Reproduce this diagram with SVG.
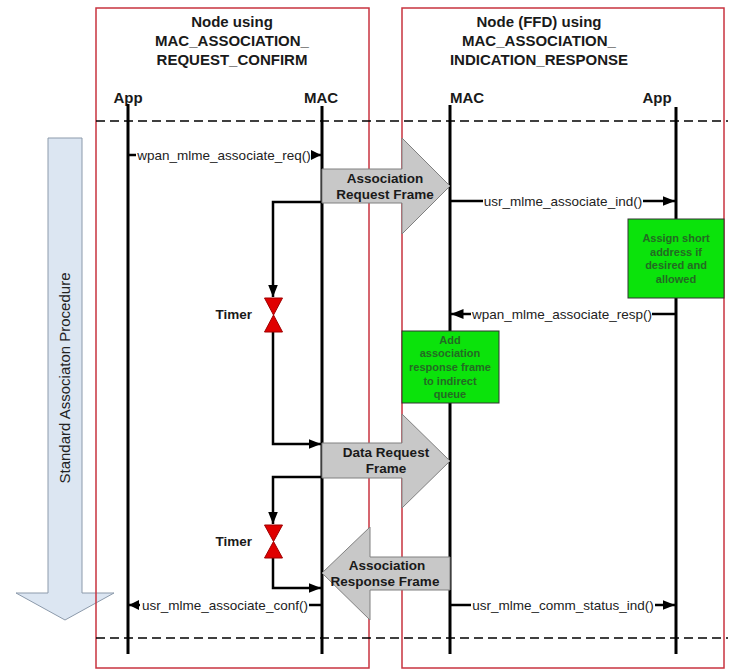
<svg xmlns="http://www.w3.org/2000/svg" width="740" height="670" viewBox="0 0 740 670">
<style>
  .hdr{font-family:"Liberation Sans",Arial,sans-serif;font-size:15px;font-weight:bold;fill:#1a1a1a;text-anchor:middle}
  .msg{font-family:"Liberation Sans",Arial,sans-serif;font-size:13.5px;fill:#222;text-anchor:middle}
  .frm{font-family:"Liberation Sans",Arial,sans-serif;font-size:13.5px;font-weight:bold;fill:#1a1a1a;text-anchor:middle}
  .grn{font-family:"Liberation Sans",Arial,sans-serif;font-size:11px;font-weight:bold;fill:#236b23;text-anchor:middle}
  .tmr{font-family:"Liberation Sans",Arial,sans-serif;font-size:13.5px;font-weight:bold;fill:#1a1a1a;text-anchor:end}
  .proc{font-family:"Liberation Sans",Arial,sans-serif;font-size:15px;fill:#222;text-anchor:middle}
  .box{fill:none;stroke:#c8333f;stroke-width:1.5}
  .life{stroke:#000;stroke-width:3}
  .dash{stroke:#000;stroke-width:1.5;stroke-dasharray:9 5}
  .ln{stroke:#000;stroke-width:2.5;fill:none}
  .big{fill:#c8c8c8;stroke:#808080;stroke-width:1}
  .gbox{fill:#0be30b;stroke:#333;stroke-width:1}
  .hg{fill:#e00000;stroke:#a00000;stroke-width:1}
</style>
<defs>
  <marker id="ah" markerWidth="5" markerHeight="4" refX="5" refY="2" orient="auto" markerUnits="strokeWidth">
    <path d="M0,0 L5,2 L0,4 Z" fill="#000"/>
  </marker>
  <marker id="ahs" markerWidth="4" markerHeight="4" refX="4" refY="2" orient="auto" markerUnits="strokeWidth">
    <path d="M0,0 L4,2 L0,4 Z" fill="#000"/>
  </marker>
</defs>
<rect width="740" height="670" fill="#fff"/>

<g id="procedure">
  <polygon points="48,138 82,138 82,593 114,593 65,620 16,593 48,593" fill="#dce6f2" stroke="#8c9aab" stroke-width="1"/>
  <text class="proc" transform="translate(70,378) rotate(-90)">Standard Associaton Procedure</text>
</g>

<g id="node-requester">
  <rect class="box" x="96" y="8" width="273" height="660"/>
  <text class="hdr" x="232" y="27">Node using</text>
  <text class="hdr" x="232" y="46">MAC_ASSOCIATION_</text>
  <text class="hdr" x="232" y="65">REQUEST_CONFIRM</text>
</g>
<g id="node-ffd">
  <rect class="box" x="402" y="8" width="322" height="660"/>
  <text class="hdr" x="539" y="27">Node (FFD) using</text>
  <text class="hdr" x="539" y="46">MAC_ASSOCIATION_</text>
  <text class="hdr" x="539" y="65">INDICATION_RESPONSE</text>
</g>

<g id="phase-lines">
  <line class="dash" x1="96" y1="121" x2="728" y2="121"/>
  <line class="dash" x1="96" y1="638" x2="728" y2="638"/>
</g>

<g id="lifeline-app-left">
  <text class="hdr" x="128" y="103">App</text>
  <line class="life" x1="128" y1="104" x2="128" y2="654"/>
</g>
<g id="lifeline-mac-left">
  <text class="hdr" x="321" y="103">MAC</text>
  <line class="life" x1="322" y1="106" x2="322" y2="654"/>
</g>
<g id="lifeline-mac-right">
  <text class="hdr" x="467" y="103">MAC</text>
  <line class="life" x1="450" y1="105" x2="450" y2="654"/>
</g>
<g id="lifeline-app-right">
  <text class="hdr" x="657" y="103">App</text>
  <line class="life" x1="676" y1="107" x2="676" y2="654"/>
</g>

<g id="connectors">
  <!-- wpan_mlme_associate_req -->
  <line class="ln" x1="128" y1="155" x2="136" y2="155"/>
  <line class="ln" x1="311" y1="155" x2="321" y2="155" marker-end="url(#ahs)"/>
  <text class="msg" x="224" y="160">wpan_mlme_associate_req()</text>
  <!-- usr_mlme_associate_ind -->
  <line class="ln" x1="450" y1="201" x2="483" y2="201"/>
  <line class="ln" x1="643" y1="201" x2="675" y2="201" marker-end="url(#ah)"/>
  <text class="msg" x="563" y="206">usr_mlme_associate_ind()</text>
  <!-- wpan_mlme_associate_resp -->
  <line class="ln" x1="676" y1="314" x2="652" y2="314"/>
  <line class="ln" x1="471" y1="314" x2="451" y2="314" marker-end="url(#ah)"/>
  <text class="msg" x="562" y="319">wpan_mlme_associate_resp()</text>
  <!-- usr_mlme_associate_conf -->
  <line class="ln" x1="322" y1="605" x2="309" y2="605"/>
  <line class="ln" x1="140" y1="605" x2="129" y2="605" marker-end="url(#ahs)"/>
  <text class="msg" x="225" y="610">usr_mlme_associate_conf()</text>
  <!-- usr_mlme_comm_status_ind -->
  <line class="ln" x1="450" y1="605" x2="471" y2="605"/>
  <line class="ln" x1="655" y1="605" x2="675" y2="605" marker-end="url(#ah)"/>
  <text class="msg" x="563" y="610">usr_mlme_comm_status_ind()</text>
  <!-- timer loop 1 -->
  <path class="ln" d="M322,202 H273 V297" marker-end="url(#ah)"/>
  <path class="ln" d="M273,332 V444 H321" marker-end="url(#ah)"/>
  <!-- timer loop 2 -->
  <path class="ln" d="M322,477 H273 V524" marker-end="url(#ah)"/>
  <path class="ln" d="M273,558 V588 H321" marker-end="url(#ah)"/>
</g>

<g id="frame-assoc-request">
  <polygon class="big" points="322,169 402,169 402,138 450,186 402,234 402,203 322,203"/>
  <text class="frm" x="385" y="183">Association</text>
  <text class="frm" x="385" y="199">Request Frame</text>
</g>
<g id="frame-data-request">
  <polygon class="big" points="322,443 402,443 402,414 450,461 402,508 402,478 322,478"/>
  <text class="frm" x="386" y="457">Data Request</text>
  <text class="frm" x="386" y="473">Frame</text>
</g>
<g id="frame-assoc-response">
  <polygon class="big" points="450,557 370,557 370,527 322,573 370,620 370,590 450,590"/>
  <text class="frm" x="387" y="570">Association</text>
  <text class="frm" x="385" y="586">Response Frame</text>
</g>

<g id="timer-1">
  <polygon class="hg" points="264.5,298 282.5,298 273.5,315"/>
  <polygon class="hg" points="273.5,315 264.5,332 282.5,332"/>
  <text class="tmr" x="252" y="319">Timer</text>
</g>
<g id="timer-2">
  <polygon class="hg" points="264.5,525 282.5,525 273.5,541.5"/>
  <polygon class="hg" points="273.5,541.5 264.5,558 282.5,558"/>
  <text class="tmr" x="252" y="546">Timer</text>
</g>

<g id="assign-short-address">
  <rect class="gbox" x="628" y="219" width="96" height="79"/>
  <text class="grn" x="676" y="242">Assign short</text>
  <text class="grn" x="676" y="256">address if</text>
  <text class="grn" x="676" y="269">desired and</text>
  <text class="grn" x="676" y="283">allowed</text>
</g>
<g id="add-indirect-queue">
  <rect class="gbox" x="402" y="331" width="97" height="72"/>
  <text class="grn" x="450" y="344">Add</text>
  <text class="grn" x="450" y="357">association</text>
  <text class="grn" x="450" y="371">response frame</text>
  <text class="grn" x="450" y="385">to indirect</text>
  <text class="grn" x="450" y="398">queue</text>
</g>
</svg>
